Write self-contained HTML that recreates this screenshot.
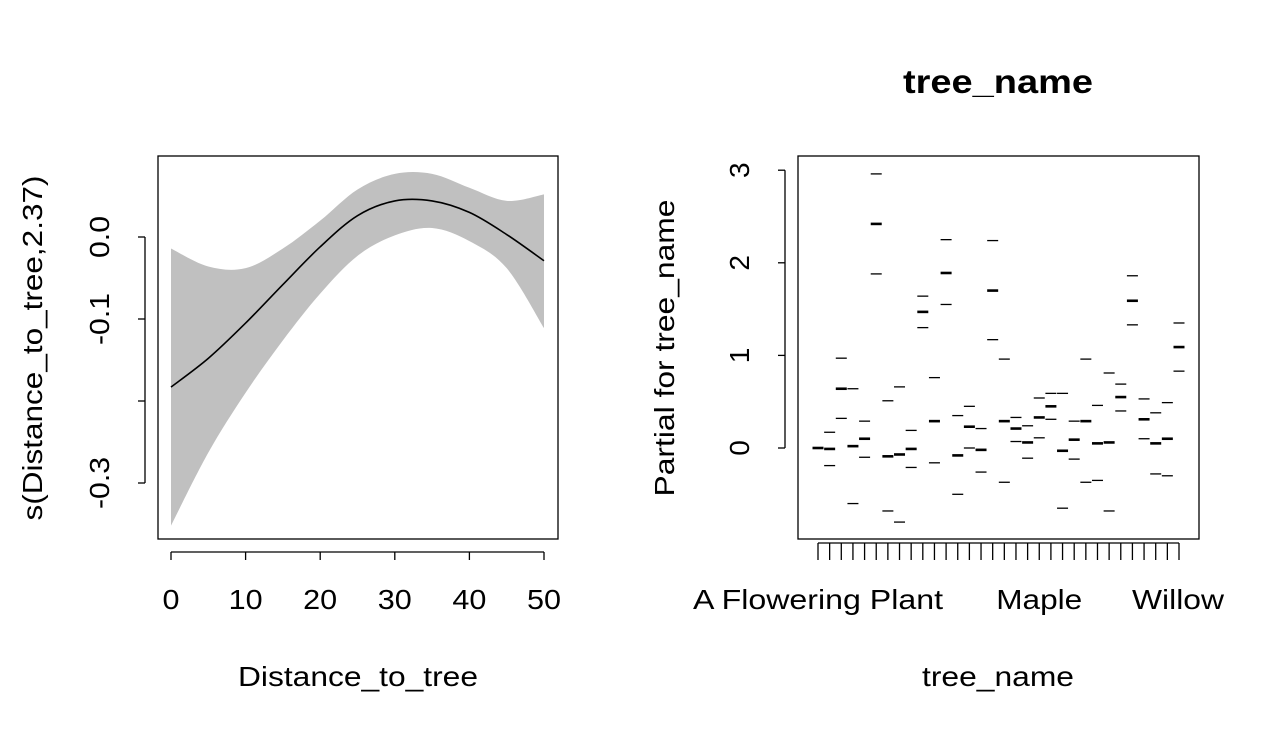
<!DOCTYPE html>
<html><head><meta charset="utf-8"><style>
body{margin:0;background:#fff}
svg{display:block;font-family:"Liberation Sans",Arial,sans-serif}
</style></head><body>
<svg id="c" width="1280" height="736" viewBox="0 0 1280 736">
<g id="left"></g>
<g id="right"></g>
</svg>
<script>
const smoothX=[0,5,10,15,20,25,30,35,40,45,50];
const smoothFit=[-0.183,-0.148,-0.105,-0.058,-0.012,0.026,0.044,0.044,0.030,0.003,-0.029];
const smoothUpper=[-0.014,-0.036,-0.038,-0.014,0.020,0.058,0.077,0.077,0.060,0.044,0.052];
const smoothLower=[-0.352,-0.263,-0.19,-0.126,-0.069,-0.023,0.002,0.011,-0.005,-0.038,-0.111];
const leftXTicks=[0,10,20,30,40,50];
const leftYTicks=[-0.3,-0.2,-0.1,0.0];
const leftYLabels=["-0.3","","-0.1","0.0"];
const levelMid=[0,-0.01,0.64,0.02,0.10,2.42,-0.09,-0.07,-0.01,1.47,0.29,1.89,-0.08,0.23,-0.02,1.70,0.29,0.21,0.06,0.33,0.45,-0.03,0.09,0.29,0.05,0.06,0.55,1.59,0.31,0.05,0.10,1.09];
const levelUpper=[0,0.17,0.97,0.64,0.29,2.96,0.51,0.66,0.19,1.64,0.76,2.25,0.35,0.45,0.21,2.24,0.96,0.33,0.24,0.54,0.59,0.59,0.29,0.96,0.46,0.81,0.69,1.86,0.53,0.38,0.49,1.35];
const levelLower=[0,-0.19,0.32,-0.60,-0.10,1.88,-0.68,-0.80,-0.21,1.30,-0.16,1.55,-0.50,0.00,-0.26,1.17,-0.37,0.07,-0.11,0.11,0.31,-0.65,-0.12,-0.37,-0.35,-0.68,0.40,1.33,0.10,-0.28,-0.30,0.83];
const rightYTicks=[0,1,2,3];
const xLabelIdx=[0,19,31];
const xLabelText=["A Flowering Plant","Maple","Willow"];
const xLabelLen=[250,86,92];

const NS="http://www.w3.org/2000/svg";
function mk(p,t,a){const e=document.createElementNS(NS,t);for(const k in a)e.setAttribute(k,a[k]);p.appendChild(e);return e;}
function fit(e,len){e.setAttribute('textLength',len);e.setAttribute('lengthAdjust','spacingAndGlyphs');}
function smooth(pts){let d="M"+pts[0][0]+","+pts[0][1];for(let i=0;i<pts.length-1;i++){const p0=pts[Math.max(0,i-1)],p1=pts[i],p2=pts[i+1],p3=pts[Math.min(pts.length-1,i+2)];
d+=" C"+(p1[0]+(p2[0]-p0[0])/6)+","+(p1[1]+(p2[1]-p0[1])/6)+" "+(p2[0]-(p3[0]-p1[0])/6)+","+(p2[1]-(p3[1]-p1[1])/6)+" "+p2[0]+","+p2[1];}return d;}

// LEFT
const L=document.getElementById('left');
const lx=v=>171+v*7.46, ly=v=>237-v*820;
const up=smoothX.map((x,i)=>[lx(x),ly(smoothUpper[i])]);
const lo=smoothX.map((x,i)=>[lx(x),ly(smoothLower[i])]).reverse();
let bd=smooth(up)+" L"+lo[0][0]+","+lo[0][1]+smooth(lo).replace(/^M[^ ]+/,"")+" Z";
let band=mk(L,'path',{d:bd,fill:'#c0c0c0'});

let fl=mk(L,'path',{d:smooth(smoothX.map((x,i)=>[lx(x),ly(smoothFit[i])])),fill:'none',stroke:'#000','stroke-width':1.6});

let b1=mk(L,'rect',{x:158,y:156,width:400,height:383,fill:'none',stroke:'#000','stroke-width':1.3});

mk(L,'line',{x1:lx(0),x2:lx(50),y1:552,y2:552,stroke:'#000','stroke-width':1.3});
leftXTicks.forEach(t=>{mk(L,'line',{x1:lx(t),x2:lx(t),y1:552,y2:560,stroke:'#000','stroke-width':1.3});
const tx=mk(L,'text',{x:lx(t),y:609,'font-size':28,'text-anchor':'middle'});tx.textContent=t;
fit(tx,String(t).length*17);
});
mk(L,'line',{x1:145,x2:145,y1:ly(-0.3),y2:ly(0),stroke:'#000','stroke-width':1.3});
leftYTicks.forEach((t,i)=>{mk(L,'line',{x1:138,x2:145,y1:ly(t),y2:ly(t),stroke:'#000','stroke-width':1.3});
if(leftYLabels[i]){const tx=mk(L,'text',{x:109,y:ly(t),'font-size':28,'text-anchor':'middle',transform:`rotate(-90 109 ${ly(t)})`});tx.textContent=leftYLabels[i];
fit(tx,leftYLabels[i].length==3?42:52);
}});
let xt=mk(L,'text',{x:358,y:686,'font-size':28,'text-anchor':'middle'});xt.textContent="Distance_to_tree";fit(xt,240);

let yt=mk(L,'text',{x:42,y:348,'font-size':28,'text-anchor':'middle',transform:'rotate(-90 42 348)'});yt.textContent="s(Distance_to_tree,2.37)";fit(yt,345);


// RIGHT
const R=document.getElementById('right');
const rx=i=>818+i*(1179-818)/31, ry=v=>448-v*92.6;
let b2=mk(R,'rect',{x:798,y:156,width:401,height:383,fill:'none',stroke:'#000','stroke-width':1.3});

levelMid.forEach((m,i)=>{const x=rx(i);
[[levelUpper[i],1.3],[levelLower[i],1.3],[m,2.6]].forEach(([v,w],k)=>{
const ln=mk(R,'line',{x1:x-5.5,x2:x+5.5,y1:ry(v),y2:ry(v),stroke:'#000','stroke-width':w});
});
mk(R,'line',{x1:x,x2:x,y1:543,y2:560,stroke:'#000','stroke-width':1.3});});
mk(R,'line',{x1:rx(0),x2:rx(31),y1:543,y2:543,stroke:'#000','stroke-width':1.3});
xLabelIdx.forEach((ix,k)=>{let cx=rx(ix);if(k==2)cx=1178;
const tx=mk(R,'text',{x:cx,y:609,'font-size':28,'text-anchor':'middle'});tx.textContent=xLabelText[k];fit(tx,xLabelLen[k]);
});
mk(R,'line',{x1:785,x2:785,y1:ry(0),y2:ry(3),stroke:'#000','stroke-width':1.3});
rightYTicks.forEach(t=>{mk(R,'line',{x1:778,x2:785,y1:ry(t),y2:ry(t),stroke:'#000','stroke-width':1.3});
const tx=mk(R,'text',{x:749,y:ry(t),'font-size':28,'text-anchor':'middle',transform:`rotate(-90 749 ${ry(t)})`});tx.textContent=t;
});
let rt=mk(R,'text',{x:998,y:93,'font-size':33,'font-weight':'bold','text-anchor':'middle'});rt.textContent="tree_name";fit(rt,190);

let rxt=mk(R,'text',{x:998,y:686,'font-size':28,'text-anchor':'middle'});rxt.textContent="tree_name";fit(rxt,152);

let ryt=mk(R,'text',{x:674,y:348,'font-size':28,'text-anchor':'middle',transform:'rotate(-90 674 348)'});ryt.textContent="Partial for tree_name";fit(ryt,297);

</script>
</body></html>
